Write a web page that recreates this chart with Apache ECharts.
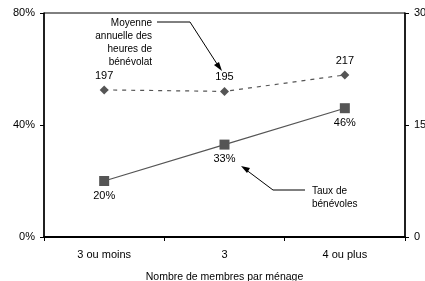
<!DOCTYPE html>
<html>
<head>
<meta charset="UTF-8">
<title>Bénévolat selon la taille du ménage</title>
<style>
  html, body { margin: 0; padding: 0; background: #fff; }
  #chart { width: 425px; height: 281px; }
</style>
</head>
<body>
<div id="chart"></div>
<script src="https://cdn.jsdelivr.net/npm/echarts@6/dist/echarts.min.js"></script>
<script>
// categories (taille du ménage)
var categories = ['3 ou moins', '3', '4 ou plus'];
// taux de bénévoles (%)
var tauxBenevoles = [20, 33, 46];
// moyenne annuelle des heures de bénévolat
var heuresMoyennes = [197, 195, 217];

var chart = echarts.init(document.getElementById('chart'));
var font = 'Liberation Sans, Arial, sans-serif';

// petite fonction pour les lignes de texte des annotations
function noteLine(txt, x, y, align) {
  return {
    type: 'text', x: x, y: y,
    style: { text: txt, align: align, verticalAlign: 'middle', fontSize: 10, fill: '#000', fontFamily: font }
  };
}

var option = {
  animation: false,
  textStyle: { fontFamily: font },
  grid: {
    left: 44, right: 20, top: 13, bottom: 44,
    outerBoundsMode: 'none',
    containLabel: false,
    show: true, borderColor: '#000', borderWidth: 1
  },
  xAxis: {
    type: 'category',
    data: categories,
    name: 'Nombre de membres par ménage',
    nameLocation: 'middle',
    nameGap: 35,
    nameTextStyle: { fontSize: 10.5, color: '#000' },
    axisLine: { lineStyle: { color: '#000', width: 2 } },
    axisTick: { show: true, length: 4, lineStyle: { color: '#000' } },
    axisLabel: { color: '#000', fontSize: 11, margin: 12 }
  },
  yAxis: [
    {
      type: 'value', min: 0, max: 80, interval: 40,
      axisLine: { show: true, lineStyle: { color: '#000', width: 1.5 } },
      axisTick: { show: true, length: 4, lineStyle: { color: '#000' } },
      splitLine: { show: false },
      axisLabel: { formatter: '{value}%', color: '#000', fontSize: 11, margin: 9 }
    },
    {
      type: 'value', min: 0, max: 300, interval: 150, position: 'right',
      axisLine: { show: true, lineStyle: { color: '#000', width: 1.5 } },
      axisTick: { show: true, length: 4, lineStyle: { color: '#000' } },
      splitLine: { show: false },
      axisLabel: { color: '#000', fontSize: 11, margin: 9 }
    }
  ],
  series: [
    {
      name: 'Taux de bénévoles',
      type: 'line',
      yAxisIndex: 0,
      data: tauxBenevoles,
      symbol: 'rect',
      symbolSize: 10,
      lineStyle: { color: '#555', width: 1.2 },
      itemStyle: { color: '#555' },
      label: { show: true, position: 'bottom', distance: 4, formatter: '{c}%', color: '#000', fontSize: 11 }
    },
    {
      name: 'Moyenne annuelle des heures de bénévolat',
      type: 'line',
      yAxisIndex: 1,
      data: heuresMoyennes,
      symbol: 'diamond',
      symbolSize: 9,
      lineStyle: { color: '#555', width: 1.2, type: [4, 5] },
      itemStyle: { color: '#555' },
      label: { show: true, position: 'top', distance: 4, color: '#000', fontSize: 11 }
    }
  ],
  graphic: [
    noteLine('Moyenne', 152, 23, 'right'),
    noteLine('annuelle des', 152, 36, 'right'),
    noteLine('heures de', 152, 49, 'right'),
    noteLine('bénévolat', 152, 62, 'right'),
    {
      type: 'polyline',
      shape: { points: [[157, 22], [190, 22], [219, 67]] },
      style: { stroke: '#000', lineWidth: 1, fill: null }
    },
    {
      type: 'polygon',
      shape: { points: [[222, 71], [214, 65], [219, 62]] },
      style: { fill: '#000' }
    },
    noteLine('Taux de', 312, 191, 'left'),
    noteLine('bénévoles', 312, 204, 'left'),
    {
      type: 'polyline',
      shape: { points: [[305, 190], [273, 190], [245, 169]] },
      style: { stroke: '#000', lineWidth: 1, fill: null }
    },
    {
      type: 'polygon',
      shape: { points: [[241, 166], [250, 168], [247, 173]] },
      style: { fill: '#000' }
    }
  ]
};

chart.setOption(option);
</script>
</body>
</html>
